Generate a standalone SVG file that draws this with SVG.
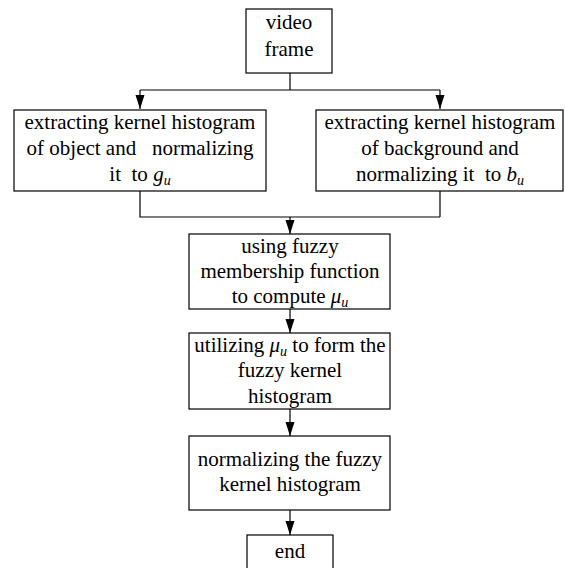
<svg xmlns="http://www.w3.org/2000/svg" width="565" height="568" viewBox="0 0 565 568">
<style>
.box{fill:#fff;stroke:#000;stroke-width:1.2}
.t{font-family:'Liberation Serif','Tinos','Times New Roman','DejaVu Serif',serif;font-size:21px;fill:#000;text-anchor:middle;white-space:pre}
.i{font-style:italic}
.s{font-size:14px;font-style:italic}
.c{fill:none;stroke:#000;stroke-width:1.2}
</style>
<defs>
<marker id="ah" markerUnits="userSpaceOnUse" markerWidth="14" markerHeight="10" refX="14" refY="4.5" orient="auto">
<path d="M0,0 L14,4.5 L0,9 z" fill="#000"/>
</marker>
</defs>
<rect width="565" height="568" fill="#fff"/>
<g id="connectors">
<path class="c" d="M290,73 V90 M140,90 H440"/>
<path class="c" d="M140,90 V109" marker-end="url(#ah)"/>
<path class="c" d="M440,90 V109" marker-end="url(#ah)"/>
<path class="c" d="M140,191 V217 H440 M440,191 V217"/>
<path class="c" d="M290,217 V234" marker-end="url(#ah)"/>
<path class="c" d="M290,309 V333" marker-end="url(#ah)"/>
<path class="c" d="M290,409 V436" marker-end="url(#ah)"/>
<path class="c" d="M290,510 V535" marker-end="url(#ah)"/>
</g>
<g id="video">
<rect class="box" x="246" y="9" width="86" height="64"/>
<text class="t" x="289" y="29">video</text>
<text class="t" x="289" y="56">frame</text>
</g>
<g id="object">
<rect class="box" x="14" y="110" width="252" height="81"/>
<text class="t" x="140" y="129">extracting kernel histogram</text>
<text class="t" x="140" y="155">of object and   normalizing</text>
<text class="t" x="140" y="181">it  to <tspan class="i">g</tspan><tspan class="s" dy="4">u</tspan></text>
</g>
<g id="background">
<rect class="box" x="316" y="110" width="247" height="81"/>
<text class="t" x="440" y="129">extracting kernel histogram</text>
<text class="t" x="440" y="155">of background and</text>
<text class="t" x="440" y="181">normalizing it  to <tspan class="i">b</tspan><tspan class="s" dy="4">u</tspan></text>
</g>
<g id="fuzzy">
<rect class="box" x="189" y="234" width="201" height="75"/>
<text class="t" x="290" y="253">using fuzzy</text>
<text class="t" x="290" y="278">membership function</text>
<text class="t" x="290" y="303">to compute <tspan class="i">μ</tspan><tspan class="s" dy="4">u</tspan></text>
</g>
<g id="form">
<rect class="box" x="189" y="333" width="201" height="76"/>
<text class="t" x="290" y="352">utilizing <tspan class="i">μ</tspan><tspan class="s" dy="4">u</tspan><tspan dy="-4"> to form the</tspan></text>
<text class="t" x="290" y="377">fuzzy kernel</text>
<text class="t" x="290" y="403">histogram</text>
</g>
<g id="normalize">
<rect class="box" x="189" y="436" width="201" height="74"/>
<text class="t" x="290" y="466">normalizing the fuzzy</text>
<text class="t" x="290" y="491">kernel histogram</text>
</g>
<g id="end">
<rect class="box" x="247" y="535" width="86" height="45"/>
<text class="t" x="290" y="558">end</text>
</g>
</svg>
